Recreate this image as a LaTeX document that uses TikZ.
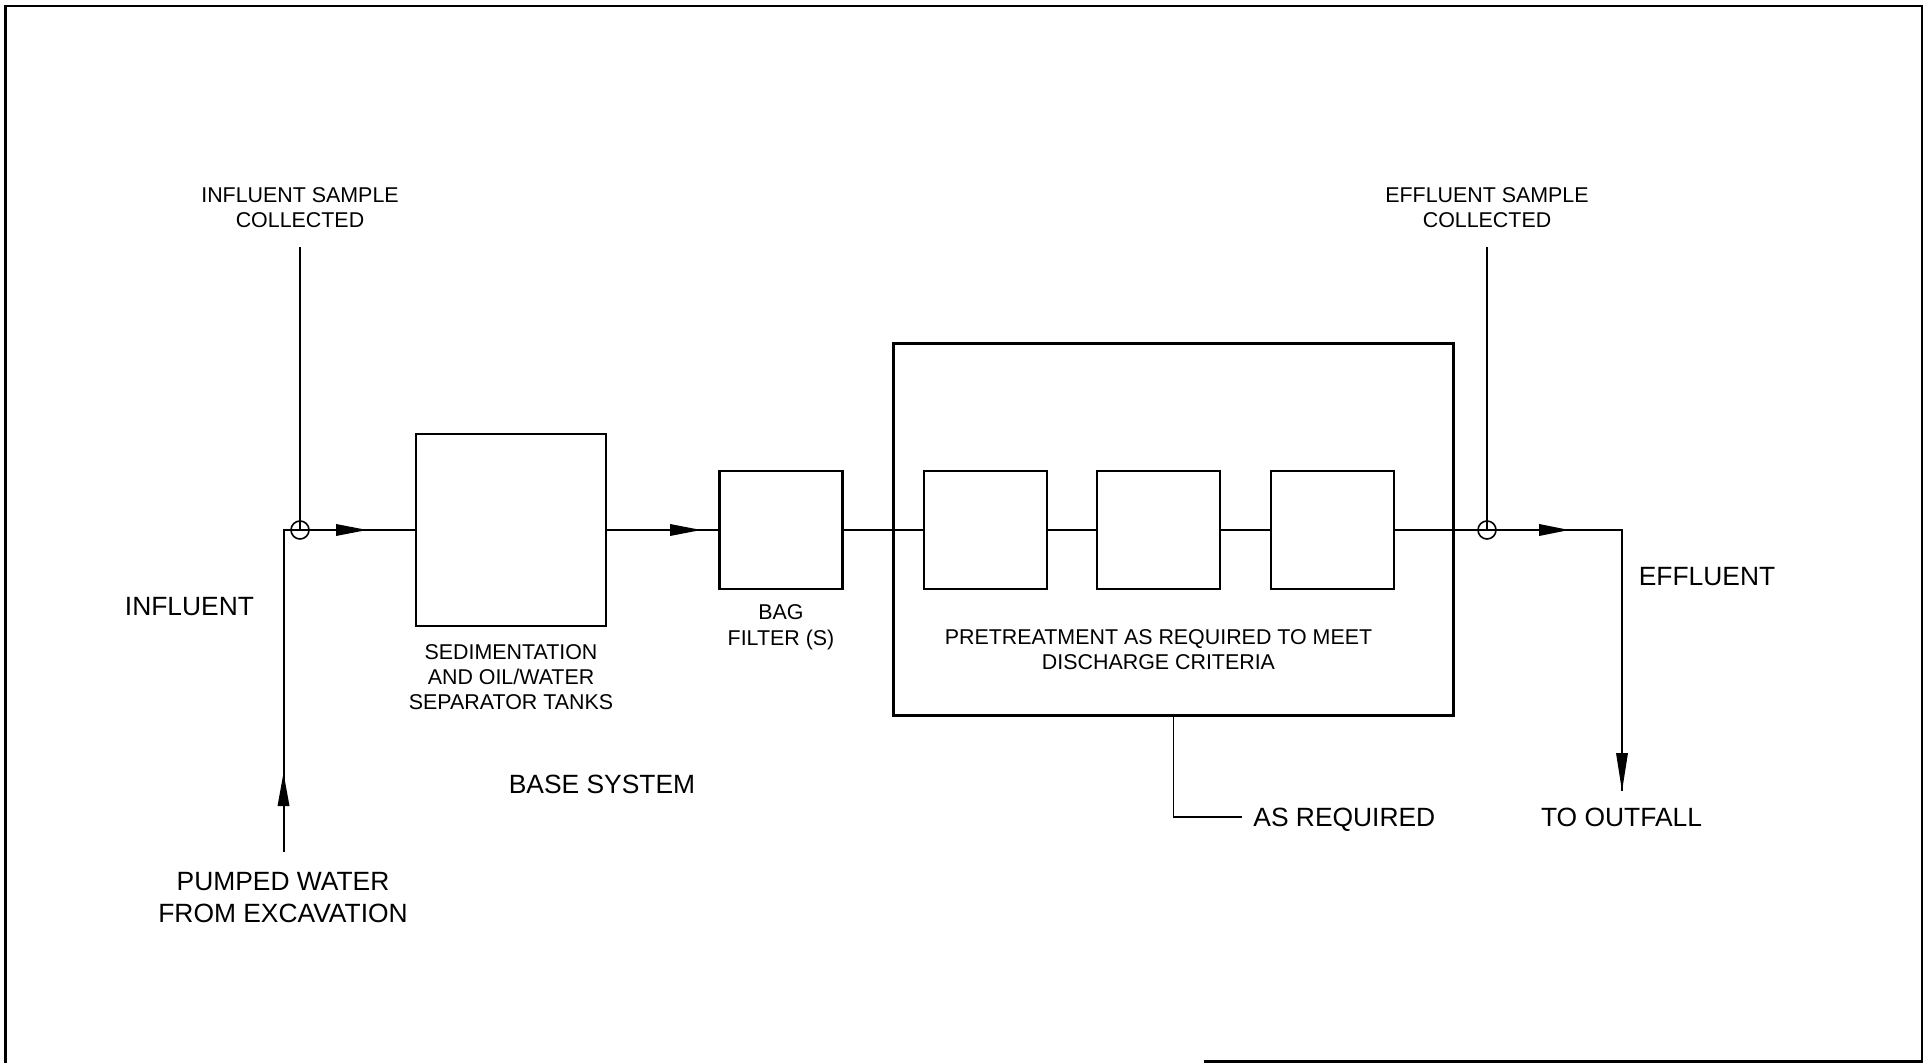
\documentclass[tikz,border=0pt]{standalone}
\usepackage{fontspec}
\setmainfont{Liberation Sans}
\begin{document}
\begin{tikzpicture}[x=0.5pt,y=-0.5pt,
  unitbox/.style={draw,line width=1.2pt,inner sep=0pt,outer sep=0pt,minimum width=61.5pt,minimum height=59pt},
  bigbox/.style={draw,line width=1.5pt,inner sep=0pt,outer sep=0pt,minimum width=279.75pt,minimum height=185.5pt},
  flow/.style={line width=1pt},
  thinline/.style={line width=0.75pt},
  smalltxt/.style={font=\fontsize{10.7pt}{12.7pt}\selectfont,align=center,inner sep=0pt,text depth=0pt},
  largetxt/.style={font=\fontsize{13.2pt}{16pt}\selectfont,align=center,inner sep=0pt,text depth=0pt},
  tap/.style={circle,draw,line width=0.8pt,minimum size=9pt,inner sep=0pt,outer sep=0pt}
]
\useasboundingbox (0,0) rectangle (1927,1063);

% sheet border
\draw[line width=1.3pt] (1204,1061.5) -- (1922,1061.5) -- (1922,6) -- (5.5,6) -- (5.5,1070);

% boxes
\node[unitbox,minimum width=95pt,minimum height=96pt] (sed) at (511,530) {};
\node[unitbox] (bag) at (781,530) {};
\node[bigbox] (big) at (1173.25,529.5) {};
\node[unitbox] (p1) at (985.5,530) {};
\node[unitbox] (p2) at (1158.75,530) {};
\node[unitbox] (p3) at (1332.5,530) {};

% sample taps
\node[tap] (cin) at (300,530) {};
\node[tap] (cout) at (1487,530) {};

% coordinates
\coordinate (pin) at (283.5,852);
\coordinate (corner) at (283.5,530);
\coordinate (sintop) at (300,247);
\coordinate (souttop) at (1487,247);
\coordinate (ecorner) at (1622,530);
\coordinate (outfall) at (1622,791);
\coordinate (asreqend) at (1241.7,817);

% connectors
\draw[flow] (pin) -- (corner) -- (sed.west);
\draw[thinline] (sintop) -- (cin.center);
\draw[flow] (sed.east) -- (bag.west);
\draw[flow] (bag.east) -- (p1.west);
\draw[flow] (p1.east) -- (p2.west);
\draw[flow] (p2.east) -- (p3.west);
\draw[flow] (p3.east) -- (ecorner) -- (outfall);
\draw[thinline] (souttop) -- (cout.center);
\draw[thinline] (big.south) |- (asreqend);

% arrowheads
\fill (283.5,773) -- (277.5,806) -- (289.5,806) -- cycle;
\fill (367,530) -- (336,524) -- (336,536) -- cycle;
\fill (701,530) -- (670,524) -- (670,536) -- cycle;
\fill (1569,530) -- (1539,524) -- (1539,536) -- cycle;
\fill (1622,791) -- (1616,753) -- (1628,753) -- cycle;

% labels
\node[smalltxt] (tinsample) at (300,207.5) {INFLUENT SAMPLE\\COLLECTED};
\node[smalltxt] (teffsample) at (1487,207.5) {EFFLUENT SAMPLE\\COLLECTED};
\node[largetxt] (tinf) at (189.5,606) {INFLUENT};
\node[largetxt] (teff) at (1707,576) {EFFLUENT};
\node[smalltxt] (tsed) at (511,677) {SEDIMENTATION\\AND OIL/WATER\\SEPARATOR TANKS};
\node[smalltxt] (tbag) at (781,625) {BAG\\FILTER (S)};
\node[smalltxt] (tpre) at (1158.5,649.5) {PRETREATMENT AS REQUIRED TO MEET\\DISCHARGE CRITERIA};
\node[largetxt] (tbase) at (602,784) {BASE SYSTEM};
\node[largetxt,anchor=west] (tasreq) at (1253,817) {AS REQUIRED};
\node[largetxt] (tout) at (1621.5,817) {TO OUTFALL};
\node[largetxt] (tpump) at (283,897) {PUMPED WATER\\FROM EXCAVATION};
\end{tikzpicture}
\end{document}
